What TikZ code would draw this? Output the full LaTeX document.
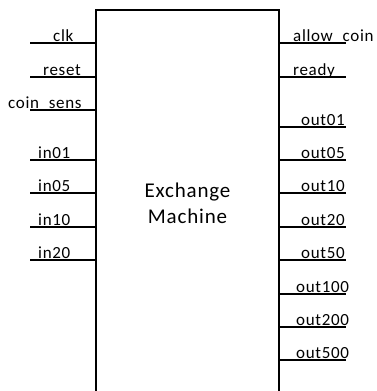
\documentclass[tikz,border=0pt]{standalone}
\usepackage{fontspec}
\setmainfont{Carlito}
\newfontfamily\pinfont{Carlito}[LetterSpace=4]
\usetikzlibrary{positioning}

\tikzset{
    pinline/.style={line width=1.3pt},
    pinlabel/.style={anchor=base west, inner sep=0pt, font=\pinfont\fontsize{17}{20}\selectfont}
}

\begin{document}
\begin{tikzpicture}[x=1pt, y=-1pt]
        \useasboundingbox (0,0) rectangle (377,391);
        \clip (0,0) rectangle (377,391);

        % Exchange Machine block
        \node[draw, rectangle, line width=1.7pt, minimum width=183pt, minimum height=386pt,
              align=center, font=\pinfont\fontsize{21}{26}\selectfont] (machine) at (187.5,203)
              {Exchange\\Machine};

        % Input pins
        \coordinate (clk) at (30,43);
        \coordinate (reset) at (30,77);
        \coordinate (coinsens) at (30,110);
        \coordinate (in01) at (30,160);
        \coordinate (in05) at (30,193);
        \coordinate (in10) at (30,227);
        \coordinate (in20) at (30,260);

        \draw[pinline] (clk) -- (clk -| machine.west);
        \draw[pinline] (reset) -- (reset -| machine.west);
        \draw[pinline] (coinsens) -- (coinsens -| machine.west);
        \draw[pinline] (in01) -- (in01 -| machine.west);
        \draw[pinline] (in05) -- (in05 -| machine.west);
        \draw[pinline] (in10) -- (in10 -| machine.west);
        \draw[pinline] (in20) -- (in20 -| machine.west);

        \node[pinlabel] (clk-label) at (53,41) {clk};
        \node[pinlabel] (reset-label) at (43,75) {reset};
        \node[pinlabel] (coinsens-label) at (8,108) {coin\_sens};
        \node[pinlabel] (in01-label) at (38,158) {in01};
        \node[pinlabel] (in05-label) at (38,191) {in05};
        \node[pinlabel] (in10-label) at (38,225) {in10};
        \node[pinlabel] (in20-label) at (38,258) {in20};

        % Output pins
        \coordinate (allowcoin) at (346,43);
        \coordinate (ready) at (346,77);
        \coordinate (out01) at (346,127);
        \coordinate (out05) at (346,160);
        \coordinate (out10) at (346,193);
        \coordinate (out20) at (346,227);
        \coordinate (out50) at (346,260);
        \coordinate (out100) at (346,294);
        \coordinate (out200) at (346,327);
        \coordinate (out500) at (346,360);

        \draw[pinline] (machine.east |- allowcoin) -- (allowcoin);
        \draw[pinline] (machine.east |- ready) -- (ready);
        \draw[pinline] (machine.east |- out01) -- (out01);
        \draw[pinline] (machine.east |- out05) -- (out05);
        \draw[pinline] (machine.east |- out10) -- (out10);
        \draw[pinline] (machine.east |- out20) -- (out20);
        \draw[pinline] (machine.east |- out50) -- (out50);
        \draw[pinline] (machine.east |- out100) -- (out100);
        \draw[pinline] (machine.east |- out200) -- (out200);
        \draw[pinline] (machine.east |- out500) -- (out500);

        \node[pinlabel] (allowcoin-label) at (293,41) {allow\_coin};
        \node[pinlabel] (ready-label) at (293,75) {ready};
        \node[pinlabel] (out01-label) at (301,125) {out01};
        \node[pinlabel] (out05-label) at (301,158) {out05};
        \node[pinlabel] (out10-label) at (301,191) {out10};
        \node[pinlabel] (out20-label) at (301,225) {out20};
        \node[pinlabel] (out50-label) at (301,258) {out50};
        \node[pinlabel] (out100-label) at (296,292) {out100};
        \node[pinlabel] (out200-label) at (296,325) {out200};
        \node[pinlabel] (out500-label) at (296,358) {out500};
    \end{tikzpicture}
\end{document}
